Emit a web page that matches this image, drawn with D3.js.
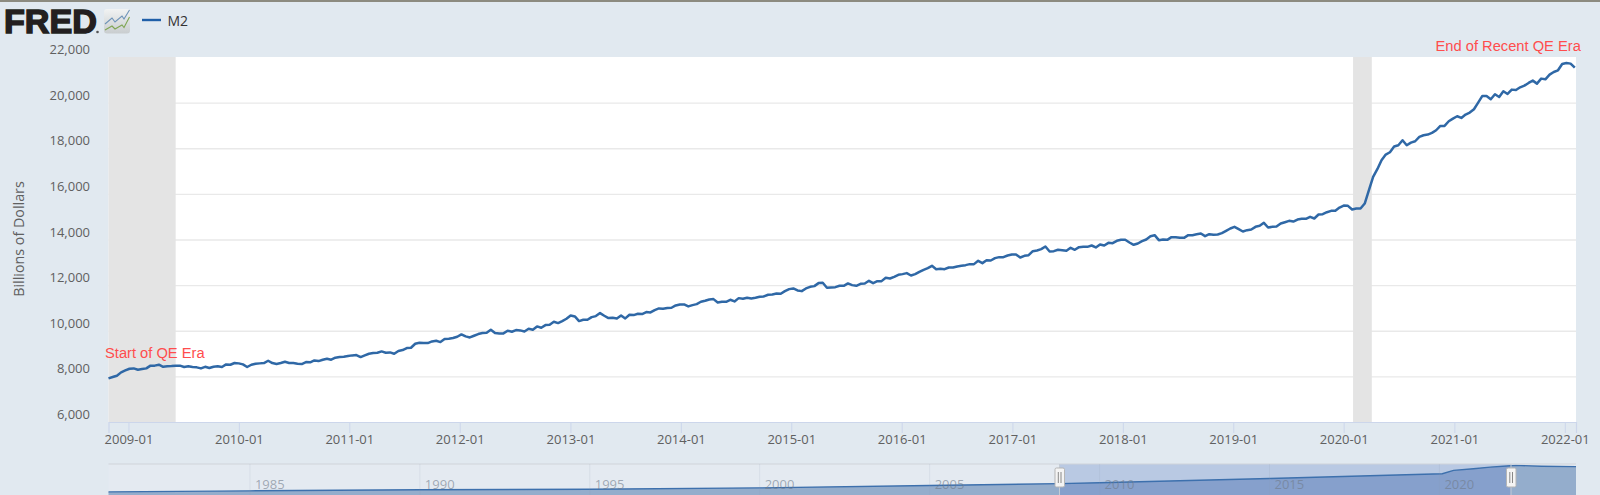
<!DOCTYPE html>
<html>
<head>
<meta charset="utf-8">
<script src="https://cdn.jsdelivr.net/npm/d3@7"></script>
<style>
html,body{margin:0;padding:0;background:#e1e9f0;overflow:hidden}
svg{display:block}
text{font-family:"Open Sans",sans-serif}
</style>
</head>
<body>
<svg id="chart" width="1600" height="495"></svg>
<script>
// M2, Billions of Dollars at an even spacing through the window
const firstDate = "2008-10-27", lastDate = "2022-02-03";
const m2Part1 = [7910,7970,8030,8175,8260,8335,8350,8290,8320,8350,8470,8470,8510,8420,8440,8450,8470,8470,8410,8440,8410,8395,8350,8420,8365,8420,8440,8410,8525,8510,8585,8570,8525,8410,8510,8555,8570,8585,8685,8585,8540,8585,8640,8585,8585,8555,8540,8625,8615,8700,8670,8730];
const m2Part2 = [8773,8730,8817,8846,8860,8890,8920,8934,8846,8920,8990,9020,9036,9095,9036,9050,8990,9110,9153,9240,9255,9430,9474,9460,9460,9533,9562,9503,9635,9650,9680,9737,9840,9752,9708,9781,9854,9898,9912,10044,9898,9883,9883,10000,9956,10030,10015,9970,10087,10044,10190];
const m2Part3 = [10131,10248,10263,10394,10336,10423,10525,10671,10628,10423,10482,10482,10598,10642,10774,10657,10555,10570,10540,10671,10540,10700,10686,10744,10730,10817,10803,10905,10978,10963,10993,11007,11109,11153,11153,11066,11124,11168,11270,11314,11372,11387,11241,11270,11270,11358,11285,11430,11400,11445,11416];
const m2Part4 = [11445,11490,11504,11577,11591,11635,11620,11737,11825,11854,11766,11737,11854,11927,11956,12088,12102,11883,11898,11912,11971,11971,12073,12000,11971,12058,12073,12190,12088,12175,12175,12321,12292,12365,12453,12482,12526,12423,12482,12584,12672,12745,12847,12700,12715,12700,12774,12774,12818,12847,12876];
const m2Part5 = [12920,12920,13066,12964,13095,13080,13183,13226,13226,13300,13343,13343,13212,13285,13314,13489,13518,13577,13694,13475,13489,13548,13533,13504,13635,13548,13664,13679,13679,13737,13650,13781,13737,13854,13840,13942,13986,13986,13869,13767,13825,13927,14000,14146,14190,13971,14000,13986,14102,14102,14073];
const m2Part6 = [14073,14190,14190,14234,14263,14146,14234,14205,14219,14278,14380,14482,14555,14453,14351,14409,14438,14555,14599,14730,14526,14555,14570,14701,14759,14818,14788,14876,14905,14905,14993,14920,15095,15110,15197,15256,15256,15402,15489,15475,15314,15358,15358,15577];
const m2Part7 = [16161,16745,17081,17475,17723,17825,18074,18132,18351,18132,18249,18307,18497,18570,18599,18672,18789,18979,18979,19183,19300,19402,19329,19475,19563,19709,20000,20293,20293,20147,20366,20249,20497,20380,20570,20556,20672,20745,20862,20964,20833,21052,21023,21227,21344,21417,21694,21738,21709,21530];
const m2Values = [...m2Part1,...m2Part2,...m2Part3,...m2Part4,...m2Part5,...m2Part6,...m2Part7];

const yTickValues = [6000,8000,10000,12000,14000,16000,18000,20000,22000];
const xTickYears = [2009,2010,2011,2012,2013,2014,2015,2016,2017,2018,2019,2020,2021,2022];
const recessions = [["2008-10-27","2009-06-06"],["2020-02-01","2020-04-03"]];

// Navigator overview
const navDates = ["1980-11-03","1985-01-01","1990-01-01","1995-01-01","2000-01-01","2005-01-01","2008-10-27","2010-01-01","2015-01-01","2020-02-01","2020-06-01","2021-01-01","2021-07-01","2022-02-01","2022-04-01","2023-01-01","2024-01-08"];
const navValues = [1600,2400,3200,3600,4650,6400,7900,8500,11800,15400,17900,19200,20400,21400,21700,21100,20800];
const navYears = [1985,1990,1995,2000,2005,2010,2015,2020];

const P = d3.utcParse("%Y-%m-%d");
const svg = d3.select("#chart");
const L = 108.5, R = 1576, T = 57, B = 422;

const x = d3.scaleUtc().domain([P("2008-10-27"), P("2022-02-07")]).range([L, R]);
const y = d3.scaleLinear().domain([6000, 22000]).range([B, T]);

// top border
svg.append("rect").attr("x",0).attr("y",0).attr("width",1600).attr("height",2).attr("fill","#8c8b80");

// plot background
svg.append("rect").attr("x",L).attr("y",T).attr("width",R-L).attr("height",B-T).attr("fill","#fff");

// y grid + labels
const yAxis = d3.axisLeft(y).tickValues(yTickValues).tickSize(-(R-L)).tickPadding(18.5).tickFormat(d3.format(","));
const gy = svg.append("g").attr("transform",`translate(${L},0)`).call(yAxis);
gy.select(".domain").remove();
gy.selectAll("line").attr("stroke","#e9e9e9").attr("stroke-width",1.4);
gy.selectAll("text").attr("fill","#606060").attr("font-size",13).attr("dy","-0.27em");
gy.selectAll(".tick").filter(d=>d===6000||d===22000).select("line").remove();

// recession bands
svg.selectAll("rect.rec").data(recessions).join("rect").attr("class","rec")
  .attr("x",d=>x(P(d[0]))).attr("width",d=>x(P(d[1]))-x(P(d[0])))
  .attr("y",T).attr("height",B-T).attr("fill","#e4e4e4");

// x axis
const xAxis = d3.axisBottom(x).tickValues(xTickYears.map(v=>new Date(Date.UTC(v,0,1))))
  .tickSize(11).tickPadding(2).tickFormat(d3.utcFormat("%Y-%m"));
const gx = svg.append("g").attr("transform",`translate(0,${B})`).call(xAxis);
gx.select(".domain").attr("stroke","#ccd6eb").attr("stroke-width",1.2);
gx.selectAll("line").attr("stroke","#ccd6eb");
gx.selectAll("text").attr("fill","#606060").attr("font-size",13);

// series
const t0 = P(firstDate).getTime(), t1 = P(lastDate).getTime();
const series = m2Values.map((v,i)=>({d:new Date(t0+(t1-t0)*i/(m2Values.length-1)),v}));
svg.append("path").datum(series)
  .attr("fill","none").attr("stroke","#2f68a6").attr("stroke-width",2.5).attr("stroke-linejoin","round")
  .attr("d",d3.line().x(d=>x(d.d)).y(d=>y(d.v)));

// y axis title
svg.append("text").attr("transform","translate(18,239) rotate(-90)").attr("text-anchor","middle")
  .attr("dominant-baseline","central").attr("fill","#606060").attr("font-size",14.3).text("Billions of Dollars");

// annotations
svg.append("text").attr("x",105).attr("y",358).attr("fill","#ff4d4d").attr("font-size",14.7)
  .style("font-family","'Liberation Sans',Arial,sans-serif").text("Start of QE Era");
svg.append("text").attr("x",1435.5).attr("y",50.5).attr("fill","#ff4d4d").attr("font-size",14.7)
  .style("font-family","'Liberation Sans',Arial,sans-serif").text("End of Recent QE Era");

// logo
svg.append("text").attr("x",4).attr("y",33).attr("fill","#231f20").attr("stroke","#231f20").attr("stroke-width",1.4)
  .attr("font-size",33).attr("font-weight",700).attr("textLength",93).attr("lengthAdjust","spacingAndGlyphs")
  .style("font-family","'Liberation Sans',Arial,sans-serif").text("FRED");
svg.append("circle").attr("cx",97.5).attr("cy",32).attr("r",1.3).attr("fill","#555");
const defs = svg.append("defs");
const g = defs.append("linearGradient").attr("id","ic").attr("x1",0).attr("y1",0).attr("x2",0).attr("y2",1);
g.append("stop").attr("offset","0").attr("stop-color","#f1f3f3");
g.append("stop").attr("offset","1").attr("stop-color","#c9cdcf");
svg.append("rect").attr("x",104).attr("y",9).attr("width",26).attr("height",24.5).attr("rx",3).attr("fill","url(#ic)");
svg.append("path").attr("d","M105 24L112 18L115 22L122 16L124 19L129.5 10").attr("fill","none").attr("stroke","#6d93b8").attr("stroke-width",1.1);
svg.append("path").attr("d","M105 30L112 26L115 29L122 25L124 27.5L129.5 17").attr("fill","none").attr("stroke","#7fa653").attr("stroke-width",1.1);

// legend
svg.append("line").attr("x1",142).attr("x2",161).attr("y1",20).attr("y2",20).attr("stroke","#1f5fa8").attr("stroke-width",2.4);
svg.append("text").attr("x",167.5).attr("y",26).attr("fill","#333").attr("font-size",14).text("M2");

// navigator
const nT = 464, nB = 495, hL = 1059.5, hR = 1511;
const nx = d3.scaleUtc().domain([P("1980-11-03"),P("2024-01-08")]).range([L,R]);
const ny = d3.scaleLinear().domain([0,22000]).range([494,465]);
svg.append("rect").attr("x",L).attr("y",nT).attr("width",R-L).attr("height",nB-nT).attr("fill","#e4eaf1");
svg.append("rect").attr("x",hL).attr("y",nT).attr("width",hR-hL).attr("height",nB-nT).attr("fill","#b9c9e3");
const nav = navDates.map((d,i)=>({d:P(d),v:navValues[i]}));
defs.append("clipPath").attr("id","sel").append("rect").attr("x",hL).attr("y",nT).attr("width",hR-hL).attr("height",nB-nT);
svg.append("path").datum(nav).attr("fill","#94adcc")
  .attr("d",d3.area().x(d=>nx(d.d)).y0(nB).y1(d=>ny(d.v)));
svg.append("path").datum(nav).attr("fill","#86a0cc").attr("clip-path","url(#sel)")
  .attr("d",d3.area().x(d=>nx(d.d)).y0(nB).y1(d=>ny(d.v)));
svg.append("path").datum(nav).attr("fill","none").attr("stroke","#3d70ad").attr("stroke-width",1.4)
  .attr("d",d3.line().x(d=>nx(d.d)).y(d=>ny(d.v)));
svg.append("line").attr("x1",L).attr("x2",R).attr("y1",nT).attr("y2",nT).attr("stroke","#cfd4da").attr("stroke-width",1.2);
const ng = svg.append("g").selectAll("g").data(navYears).join("g")
  .attr("transform",d=>`translate(${nx(new Date(Date.UTC(d,0,1)))},0)`);
ng.append("line").attr("y1",nT).attr("y2",nB).attr("stroke","#8f9db0").attr("stroke-opacity",.14);
ng.append("text").attr("x",5).attr("y",489).attr("fill","#6f7a89").attr("fill-opacity",.6).attr("font-size",13).text(d=>d);
svg.selectAll("g.h").data([hL,hR]).join("g").attr("class","h").attr("transform",d=>`translate(${d},0)`)
  .each(function(){
    const s=d3.select(this);
    s.append("line").attr("y1",nT).attr("y2",nB).attr("stroke","#c4ccd6");
    s.append("rect").attr("x",-4.5).attr("y",468).attr("width",9.5).attr("height",19).attr("rx",1.5).attr("fill","#f4f4f4").attr("stroke","#b5b5b5");
    s.append("line").attr("x1",-1.2).attr("x2",-1.2).attr("y1",472).attr("y2",483).attr("stroke","#888");
    s.append("line").attr("x1",1.5).attr("x2",1.5).attr("y1",472).attr("y2",483).attr("stroke","#888");
  });
</script>
</body>
</html>
